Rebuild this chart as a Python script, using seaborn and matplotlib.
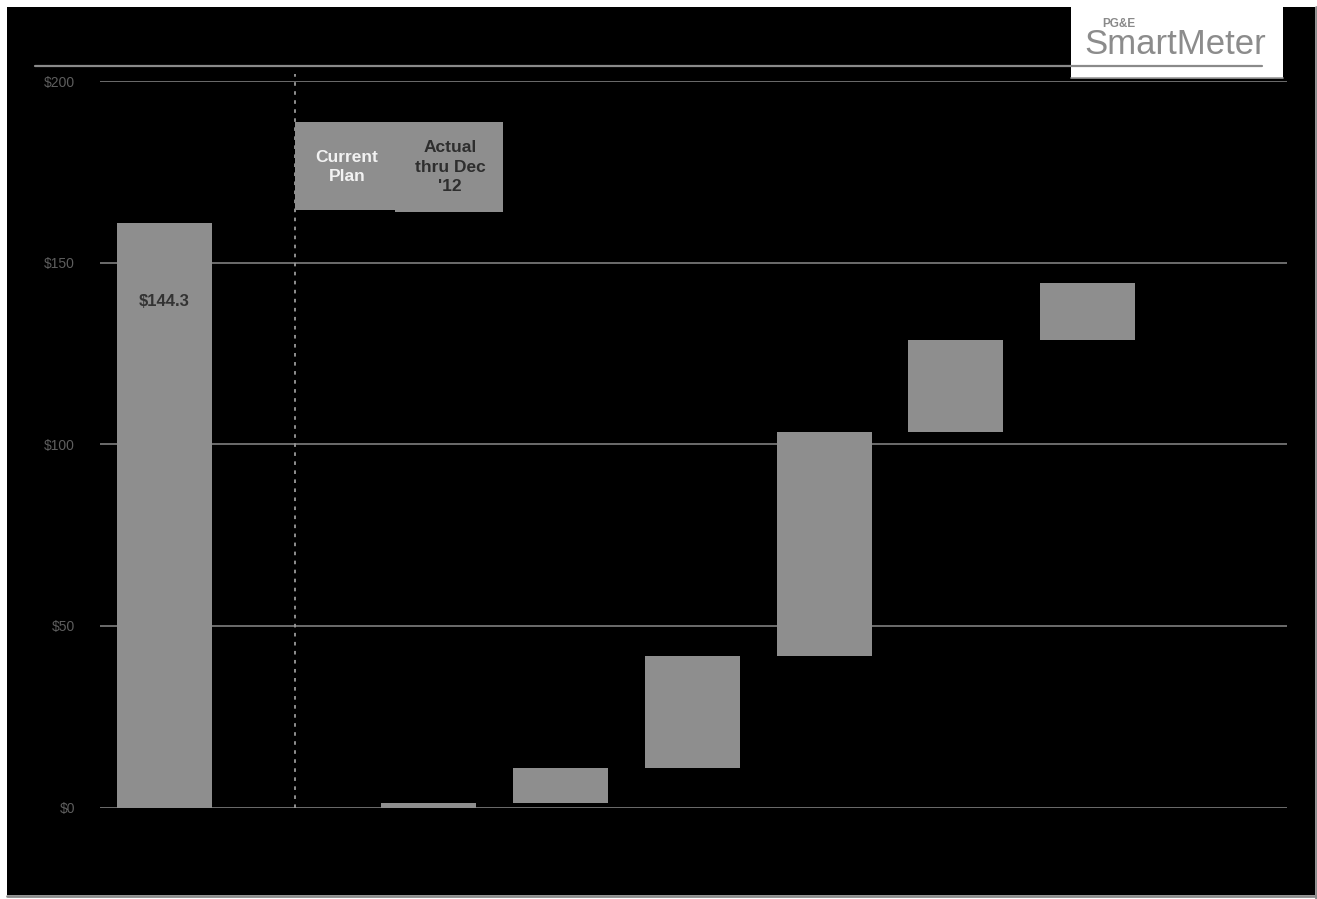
import matplotlib
matplotlib.use("Agg")
import matplotlib.pyplot as plt
import seaborn as sns
import pandas as pd
import numpy as np
from matplotlib.patches import Rectangle
from matplotlib.lines import Line2D

# ---------------- data ----------------
categories = ["Current Plan", "Step 1", "Step 2", "Step 3", "Step 4", "Step 5", "Step 6"]
slot_order = ["Current Plan", " ", "Step 1", "Step 2", "Step 3", "Step 4", "Step 5", "Step 6"]
plan_bar_height = 161.0          # drawn height of the first (plan) bar
plan_label = "$144.3"
increments = [1.2, 9.8, 30.8, 61.6, 25.2, 15.7]   # waterfall steps
y_ticks = [0, 50, 100, 150, 200]
y_tick_labels = ["$0", "$50", "$100", "$150", "$200"]
legend_left = "Current\nPlan"
legend_right = "Actual\nthru Dec\n'12"
logo_small = "PG&E"
logo_big = "SmartMeter"

# waterfall geometry derived from values
step_bottoms = list(np.concatenate([[0.0], np.cumsum(increments)[:-1]]))
heights = [plan_bar_height] + increments
bottoms = [0.0] + step_bottoms
df = pd.DataFrame({"category": categories, "height": heights})

# ---------------- figure ----------------
W, H = 1317, 899
sns.set_theme(style="white")
plt.rcParams["font.family"] = ["Liberation Sans", "DejaVu Sans"]
fig = plt.figure(figsize=(W / 100, H / 100), dpi=100, facecolor="white")

def fx(px):
    return px / W

def fy(py):
    return 1 - py / H

# black slide background with thin frame
fig.add_artist(Rectangle((fx(7), fy(895)), fx(1315) - fx(7), fy(7) - fy(895),
                         transform=fig.transFigure, facecolor="black",
                         edgecolor="none", zorder=-20))
fig.add_artist(Line2D([fx(7), fx(1317)], [fy(896), fy(896)], transform=fig.transFigure,
                      color="#8a8a8a", lw=2, zorder=-19))
fig.add_artist(Line2D([fx(1316), fx(1316)], [fy(7), fy(899)], transform=fig.transFigure,
                      color="#8a8a8a", lw=2, zorder=-19))

ax = fig.add_axes([fx(100), fy(807.5), fx(1287) - fx(100), fy(81) - fy(807.5)])
ax.set_facecolor("none")

bar_color = "#8e8e8e"
sns.barplot(data=df, x="category", y="height", order=slot_order, bottom=bottoms,
            color=bar_color, saturation=1, width=0.72, errorbar=None,
            linewidth=0, ax=ax, zorder=3)

ax.set_ylim(0, 200)
ax.set_xlim(-0.49, 8.51)
ax.set_yticks(y_ticks)
ax.set_yticklabels(y_tick_labels)
ax.tick_params(axis="y", length=0, pad=18, labelsize=10, labelcolor="#5e5e5e")
ax.set_xticks([])
ax.set_xlabel("")
ax.set_ylabel("")
for s in ax.spines.values():
    s.set_visible(False)
ax.yaxis.grid(True, color="#8a8a8a", lw=1.1, zorder=0)
ax.set_axisbelow(True)

# plan value label
ax.text(0, 139.3, plan_label, ha="center", va="center", fontsize=12,
        fontweight="bold", color="#333333", zorder=5)

# dashed separator between plan and actuals
ax.plot([0.99, 0.99], [0, 202], color="#9a9a9a", lw=1.3, ls=(0, (2, 3)),
        clip_on=False, zorder=4)

# legend-like boxes
fig.add_artist(Rectangle((fx(295), fy(210)), fx(395) - fx(295), fy(122) - fy(210),
                         transform=fig.transFigure, facecolor=bar_color,
                         edgecolor="none", zorder=5))
fig.add_artist(Rectangle((fx(395), fy(212)), fx(503) - fx(395), fy(122) - fy(212),
                         transform=fig.transFigure, facecolor=bar_color,
                         edgecolor="none", zorder=5))
fig.text(fx(347), fy(167), legend_left, ha="center", va="center", fontsize=12.5,
         fontweight="bold", color="#f2f2f2", linespacing=1.35, zorder=6)
fig.text(fx(450), fy(167), legend_right, ha="center", va="center", fontsize=12.5,
         fontweight="bold", color="#2e2e2e", linespacing=1.35, zorder=6)

# logo box
fig.add_artist(Rectangle((fx(1071), fy(78)), fx(1283) - fx(1071), fy(0) - fy(78),
                         transform=fig.transFigure, facecolor="white",
                         edgecolor="none", zorder=-15))
fig.add_artist(Line2D([fx(1071), fx(1283)], [fy(78), fy(78)], transform=fig.transFigure,
                      color="#9a9a9a", lw=1.2, zorder=-14))
fig.text(fx(1102), fy(24), logo_small, ha="left", va="center", fontsize=8.5,
         fontweight="bold", color="#8a8a8a")
fig.text(fx(1084), fy(45), logo_big, ha="left", va="center", fontsize=25,
         color="#8c8c8c")

# top separator line
fig.add_artist(Line2D([fx(35), fx(1262)], [fy(66), fy(66)], transform=fig.transFigure,
                      color="#8a8a8a", lw=1.6, zorder=-10))

fig.savefig("out.png", dpi=100, facecolor=fig.get_facecolor())
